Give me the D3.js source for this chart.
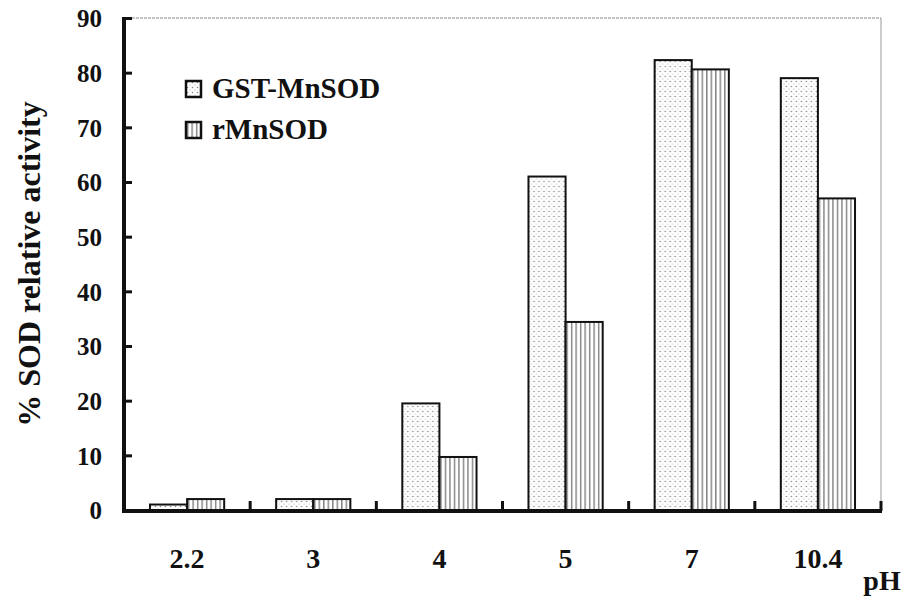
<!DOCTYPE html>
<html>
<head>
<meta charset="utf-8">
<script src="https://cdn.jsdelivr.net/npm/d3@7"></script>
<style>
body{margin:0;background:#fff;}
text{font-family:"Liberation Serif","Times New Roman",serif;font-weight:bold;fill:#111;}
</style>
</head>
<body>
<div id="chart"></div>
<script>
// pH categories and % relative activity
const phLabels = ["2.2", "3", "4", "5", "7", "10.4"];
const gstValues = [1, 2, 19.5, 61, 82.3, 79];
const rmnValues = [2, 2, 9.7, 34.4, 80.6, 57];
const seriesNames = ["GST-MnSOD", "rMnSOD"];
const yTicks = [0, 10, 20, 30, 40, 50, 60, 70, 80, 90];

const w = 907, h = 600;
const padL = 124, padR = 881, padT = 18, padB = 511;

const svg = d3.select("#chart").append("svg")
  .attr("width", w).attr("height", h);

// fill patterns
const defs = svg.append("defs");
const dots = defs.append("pattern").attr("id", "dots")
  .attr("patternUnits", "userSpaceOnUse").attr("width", 5).attr("height", 5);
dots.append("rect").attr("width", 5).attr("height", 5).attr("fill", "#fff");
dots.append("circle").attr("cx", 1.5).attr("cy", 1.5).attr("r", 0.8).attr("fill", "#888");
dots.append("circle").attr("cx", 4).attr("cy", 4).attr("r", 0.6).attr("fill", "#aaa");

const vlines = defs.append("pattern").attr("id", "vlines")
  .attr("patternUnits", "userSpaceOnUse").attr("width", 4.5).attr("height", 4);
vlines.append("rect").attr("width", 4.5).attr("height", 4).attr("fill", "#fff");
vlines.append("rect").attr("x", 1).attr("width", 1.3).attr("height", 4).attr("fill", "#777");

const x = d3.scaleBand().domain(phLabels).range([padL, padR]).paddingInner(0).paddingOuter(0);
const inner = d3.scaleBand().domain(seriesNames)
  .range([0, x.bandwidth()]).paddingInner(0).paddingOuter(0.7);
const y = d3.scaleLinear().domain([0, 90]).range([padB - 1, padT]);

const fills = {"GST-MnSOD": "url(#dots)", "rMnSOD": "url(#vlines)"};

// frame top and right (thin grey)
svg.append("line").attr("x1", padL).attr("x2", padR).attr("y1", padT).attr("y2", padT)
  .attr("stroke", "#888").attr("stroke-width", 1).attr("stroke-dasharray", "3,1");
svg.append("line").attr("x1", padR).attr("x2", padR).attr("y1", padT).attr("y2", padB)
  .attr("stroke", "#999").attr("stroke-width", 1);

// bars
const rows = phLabels.map((p, i) => ({ph: p, vals: [
  {name: seriesNames[0], v: gstValues[i]},
  {name: seriesNames[1], v: rmnValues[i]}
]}));

const groups = svg.selectAll(".grp").data(rows).enter().append("g")
  .attr("class", "grp")
  .attr("transform", d => "translate(" + x(d.ph) + ",0)");

groups.selectAll("rect").data(d => d.vals).enter().append("rect")
  .attr("x", d => inner(d.name))
  .attr("y", d => y(d.v))
  .attr("width", inner.bandwidth())
  .attr("height", d => y(0) - y(d.v))
  .attr("fill", d => fills[d.name])
  .attr("stroke", "#111")
  .attr("stroke-width", 2);

// y axis
const yAxis = d3.axisLeft(y).tickValues(yTicks).tickSize(-8).tickPadding(22);
const gy = svg.append("g").attr("transform", "translate(" + padL + ",0)").call(yAxis);
gy.select(".domain").attr("stroke", "#111").attr("stroke-width", 4)
  .attr("d", "M0," + (padT - 1) + "V" + (padB + 1));
gy.selectAll(".tick line").attr("stroke", "#111").attr("stroke-width", 3);
gy.selectAll(".tick text").style("font-size", "25px").attr("dy", "0.35em");

// x axis
const xAxis = d3.axisBottom(x).tickSize(0).tickPadding(37);
const gx = svg.append("g").attr("transform", "translate(0," + padB + ")").call(xAxis);
gx.select(".domain").attr("stroke", "#111").attr("stroke-width", 4)
  .attr("d", "M" + (padL - 2) + ",0H" + (padR + 1));
gx.selectAll(".tick text").style("font-size", "28px");

// x boundary ticks
svg.selectAll(".btick").data(phLabels).enter().append("line")
  .attr("class", "btick")
  .attr("x1", d => x(d) + x.bandwidth()).attr("x2", d => x(d) + x.bandwidth())
  .attr("y1", padB).attr("y2", padB - 10)
  .attr("stroke", "#111").attr("stroke-width", 3);

// axis titles
svg.append("text")
  .attr("transform", "translate(40,264) rotate(-90)")
  .attr("text-anchor", "middle")
  .style("font-size", "32px")
  .text("% SOD relative activity");

svg.append("text").attr("x", 882).attr("y", 590)
  .attr("text-anchor", "middle").style("font-size", "28px").text("pH");

// legend
const legend = svg.selectAll(".legend").data(seriesNames).enter().append("g")
  .attr("class", "legend")
  .attr("transform", (d, i) => "translate(186," + (81 + i * 41) + ")");
legend.append("rect").attr("width", 15).attr("height", 16)
  .attr("fill", d => fills[d]).attr("stroke", "#111").attr("stroke-width", 2.5);
legend.append("text").attr("x", 26).attr("y", 17)
  .style("font-size", "29px").text(d => d);
</script>
</body>
</html>
